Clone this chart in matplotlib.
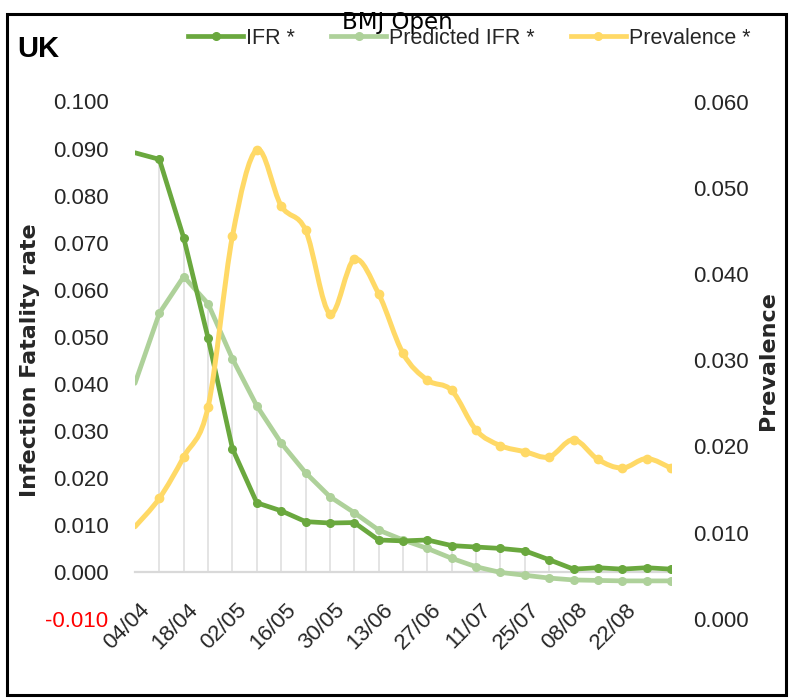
import numpy as np
import matplotlib

matplotlib.use("Agg")
import matplotlib.pyplot as plt
from matplotlib.path import Path
from matplotlib.patches import PathPatch, Rectangle
from matplotlib.lines import Line2D
from matplotlib.transforms import ScaledTranslation

# weekly points, 04/04 .. 05/09
dates = ["04/04", "11/04", "18/04", "25/04", "02/05", "09/05", "16/05", "23/05",
         "30/05", "06/06", "13/06", "20/06", "27/06", "04/07", "11/07", "18/07",
         "25/07", "01/08", "08/08", "15/08", "22/08", "29/08", "05/09"]
tick_labels = ["04/04", "18/04", "02/05", "16/05", "30/05", "13/06",
               "27/06", "11/07", "25/07", "08/08", "22/08"]

ifr = [0.0891, 0.0877, 0.0710, 0.0497, 0.0262, 0.0147, 0.0130, 0.0107,
       0.0104, 0.0105, 0.0068, 0.0066, 0.0068, 0.0056, 0.0053, 0.0050,
       0.0045, 0.0026, 0.0006, 0.0009, 0.0006, 0.0009, 0.0006]
pred_ifr = [0.0401, 0.0550, 0.0628, 0.0570, 0.0453, 0.0353, 0.0274, 0.0211,
            0.0160, 0.0126, 0.0089, 0.0068, 0.0050, 0.0029, 0.0011, -0.0001,
            -0.0007, -0.0013, -0.0017, -0.0018, -0.0019, -0.0019, -0.0019]
prevalence = [0.0107, 0.0140, 0.0188, 0.0246, 0.0444, 0.0544, 0.0479, 0.0451,
              0.0354, 0.0417, 0.0377, 0.0308, 0.0277, 0.0265, 0.0219, 0.0201,
              0.0194, 0.0188, 0.0208, 0.0185, 0.0175, 0.0186, 0.0175]

C_IFR = "#6AA83E"
C_PRED = "#AED19A"
C_PREV = "#FFD966"
TXT = "#262626"
SANS = ["Liberation Sans", "DejaVu Sans"]
TICK_FS = 16

W, H = 793, 699
fig = plt.figure(figsize=(W / 100, H / 100), dpi=100)
ax = fig.add_axes([135 / W, 1 - 619 / H, 536 / W, 517.5 / H])
ax2 = ax.twinx()

x = np.arange(len(dates))
ax.set_xlim(0, len(dates) - 1)
ax.set_ylim(-0.010, 0.100)
ax2.set_ylim(0, 0.060)

for s in ["top", "right", "left"]:
    ax.spines[s].set_visible(False)
for s in ax2.spines.values():
    s.set_visible(False)
ax.spines["bottom"].set_position(("data", 0))
ax.spines["bottom"].set_color("#D9D9D9")
ax.spines["bottom"].set_linewidth(1.6)

# drop lines from highest IFR value down to the axis
top = np.maximum(ifr, pred_ifr)
ax.vlines(x[1:], 0, top[1:], color="#DCDCDC", lw=1.1, zorder=1)

marks = list(range(1, len(dates)))
ax.plot(x, pred_ifr, color=C_PRED, lw=3.4, marker="o", ms=5.5,
        markevery=marks, solid_capstyle="round", zorder=3)
ax.plot(x, ifr, color=C_IFR, lw=3.4, marker="o", ms=5.5,
        markevery=marks, solid_capstyle="round", zorder=4)


def smooth_path(xs, ys):
    n = len(xs)
    verts = [(xs[0], ys[0])]
    codes = [Path.MOVETO]
    for i in range(n - 1):
        a = max(i - 1, 0)
        d = min(i + 2, n - 1)
        c1 = (xs[i] + (xs[i + 1] - xs[a]) / 6, ys[i] + (ys[i + 1] - ys[a]) / 6)
        c2 = (xs[i + 1] - (xs[d] - xs[i]) / 6, ys[i + 1] - (ys[d] - ys[i]) / 6)
        verts += [c1, c2, (xs[i + 1], ys[i + 1])]
        codes += [Path.CURVE4] * 3
    return Path(verts, codes)


ax2.add_patch(PathPatch(smooth_path(x, prevalence), fill=False, edgecolor=C_PREV,
                        lw=3.6, capstyle="round", joinstyle="round", zorder=3))
ax2.plot(x[1:], prevalence[1:], ls="none", marker="o", ms=6, color=C_PREV, zorder=4)

# ticks
ax.set_xticks(x[0:21:2])
ax.set_xticklabels(tick_labels, rotation=45, ha="right", va="top",
                   rotation_mode="anchor", family=SANS, fontsize=TICK_FS, color=TXT)
ax.tick_params(axis="x", length=0, pad=19.5)
off = ScaledTranslation(0.04, 0, fig.dpi_scale_trans)
for lab in ax.get_xticklabels():
    lab.set_transform(lab.get_transform() + off)

yl = np.round(np.arange(-0.010, 0.1001, 0.010), 3)
ax.set_yticks(yl)
ax.set_yticklabels([f"{v:.3f}" for v in yl], family=SANS, fontsize=TICK_FS, color=TXT)
ax.get_yticklabels()[0].set_color("#FF0000")
ax.tick_params(axis="y", length=0, pad=19)

yr = np.round(np.arange(0, 0.0601, 0.010), 3)
ax2.set_yticks(yr)
ax2.set_yticklabels([f"{v:.3f}" for v in yr], family=SANS, fontsize=TICK_FS, color=TXT)
ax2.tick_params(axis="y", length=0, pad=16)

# texts around
fig.text(30 / W, 1 - 360.5 / H, "Infection Fatality rate", rotation=90,
         ha="center", va="center", fontsize=16, fontweight="bold", color=TXT)
fig.text(767.5 / W, 1 - 360.5 / H, "Prevalence", rotation=90,
         ha="center", va="center", fontsize=16, fontweight="bold", color=TXT)
fig.text(17 / W, 1 - 57 / H, "UK", family=SANS, fontsize=21,
         fontweight="bold", ha="left", va="baseline", color="black")

handles = [
    Line2D([], [], color=C_IFR, lw=3.4, marker="o", ms=5.5),
    Line2D([], [], color=C_PRED, lw=3.4, marker="o", ms=5.5),
    Line2D([], [], color=C_PREV, lw=3.4, marker="o", ms=5.5),
]
fig.legend(handles, ["IFR *", "Predicted IFR *", "Prevalence *"],
           loc="center", bbox_to_anchor=(469.5 / W, 1 - 38 / H), ncol=3,
           frameon=False, handlelength=2.55, handletextpad=0.15,
           columnspacing=1.67, borderpad=0, numpoints=1,
           prop={"family": SANS, "size": 15.5}, labelcolor=TXT)

fig.add_artist(Rectangle((7 / W, 1 - 695 / H), 779 / W, 681 / H, fill=False,
                         lw=2.2, ec="black", transform=fig.transFigure))
fig.text(397.5 / W, 1 - 28.5 / H, "BMJ Open", ha="center", va="baseline",
         fontsize=16.5, color="black")

fig.savefig("out.png", dpi=100)
